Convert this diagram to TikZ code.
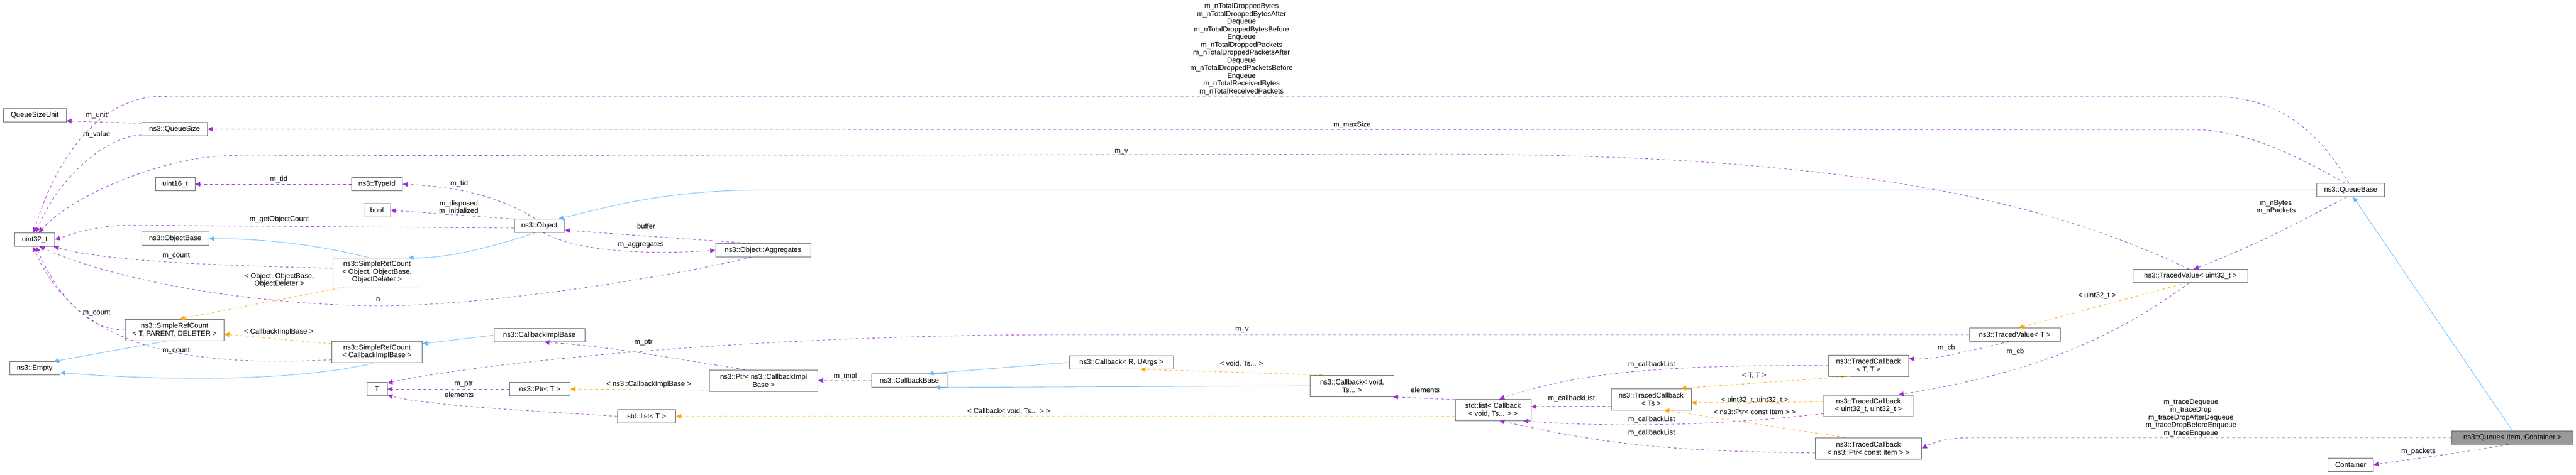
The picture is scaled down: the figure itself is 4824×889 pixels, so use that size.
\documentclass[tikz,border=0pt]{standalone}
\usepackage{fontspec}
\setmainfont{Liberation Sans}
\usetikzlibrary{arrows.meta}
\definecolor{pur}{HTML}{9A32CD}
\definecolor{org}{HTML}{FFA500}
\definecolor{blu}{HTML}{63B8FF}
\definecolor{bdr}{HTML}{666666}
\begin{document}
\begin{tikzpicture}[x=0.25mm,y=-0.25mm,
  box/.style={draw=bdr,line width=0.6pt,fill=white,inner sep=1pt,minimum height=6.25mm,align=center,font=\fontsize{9.5}{10.3}\selectfont},
  mw/.style={minimum width=#1*0.25mm},
  lbl/.style={align=center,inner sep=0pt,font=\fontsize{9.5}{10.3}\selectfont},
  pe/.style={-{Triangle[length=2.4mm,width=2.2mm,fill=pur]},draw=pur,line width=0.6pt,dash pattern=on 1.3mm off 1.3mm},
  oe/.style={-{Triangle[length=2.4mm,width=2.2mm,fill=org]},draw=org,line width=0.6pt,dash pattern=on 1.3mm off 1.3mm},
  be/.style={-{Triangle[length=2.4mm,width=2.2mm,fill=blu]},draw=blu,line width=0.6pt}]
\useasboundingbox (0,0) rectangle (4824,889);
% nodes
\node[box,mw=118] (qsu) at (65,216) {QueueSizeUnit};
\node[box,mw=123] (qs) at (327,242) {ns3::QueueSize};
\node[box,mw=75] (u32) at (65,449) {uint32\_t};
\node[box,mw=74] (u16) at (328,345) {uint16\_t};
\node[box,mw=95] (tid) at (706,345) {ns3::TypeId};
\node[box,mw=50] (bool) at (706,394) {bool};
\node[box,mw=94] (obj) at (1010,423) {ns3::Object};
\node[box,mw=126] (ob) at (328,447) {ns3::ObjectBase};
\node[box,mw=165,minimum height=13.5mm] (srco) at (706,510) {ns3::SimpleRefCount\\{}< Object, ObjectBase,\\ObjectDeleter >};
\node[box,mw=185,minimum height=10mm] (srct) at (327,618) {ns3::SimpleRefCount\\{}< T, PARENT, DELETER >};
\node[box,mw=94] (emp) at (65,690) {ns3::Empty};
\node[box,mw=169,minimum height=10mm] (srcc) at (706,659) {ns3::SimpleRefCount\\{}< CallbackImplBase >};
\node[box,mw=170] (cib) at (1010,628) {ns3::CallbackImplBase};
\node[box,mw=38] (T) at (706,729) {T};
\node[box,mw=113] (pt) at (1011,729) {ns3::Ptr< T >};
\node[box,mw=109] (lt) at (1211,780) {std::list< T >};
\node[box,mw=178] (agg) at (1429,469) {ns3::Object::Aggregates};
\node[box,mw=203,minimum height=10mm] (pcib) at (1430,713) {ns3::Ptr< ns3::CallbackImpl\\Base >};
\node[box,mw=141] (cb) at (1703,713) {ns3::CallbackBase};
\node[box,mw=195] (cbr) at (2100,679) {ns3::Callback< R, UArgs >};
\node[box,mw=157,minimum height=10mm] (cbv) at (2532,723) {ns3::Callback< void,\\Ts... >};
\node[box,mw=142,minimum height=10mm] (lcb) at (2796,768) {std::list< Callback\\{}< void, Ts... > >};
\node[box,mw=150,minimum height=10mm] (tcts) at (3092,748) {ns3::TracedCallback\\{}< Ts >};
\node[box,mw=150,minimum height=10mm] (tctt) at (3499,685) {ns3::TracedCallback\\{}< T, T >};
\node[box,mw=167,minimum height=10mm] (tcuu) at (3499,760) {ns3::TracedCallback\\{}< uint32\_t, uint32\_t >};
\node[box,mw=199,minimum height=10mm] (tcp) at (3499,840) {ns3::TracedCallback\\{}< ns3::Ptr< const Item > >};
\node[box,mw=127] (qb) at (4402,356) {ns3::QueueBase};
\node[box,mw=215] (tvu) at (4102,517) {ns3::TracedValue< uint32\_t >};
\node[box,mw=170] (tvt) at (3773,627) {ns3::TracedValue< T >};
\node[box,mw=227,fill=black!40] (q) at (4705,820) {ns3::Queue< Item, Container >};
\node[box,mw=85] (cont) at (4402,871) {Container};
% edges
\draw[pe] (qb.105) .. controls (4340,240) and (4260,181) .. (4146,181) -- (320,181) .. controls (200,170) and (110,280) .. (u32.100);
\draw[pe] (qb.130) .. controls (4300,290) and (4200,243) .. (4110,243) -- (qs.east);
\draw[pe] (tvu.105) .. controls (3800,360) and (3400,289) .. (2700,289) -- (450,292) .. controls (330,285) and (140,360) .. (u32.60);
\draw[pe] (qs.170) -- (qsu.-10);
\draw[pe] (qs.190) .. controls (200,255) and (110,330) .. (u32.80);
\draw[pe] (tid.west) -- (u16.east);
\draw[pe] (obj.120) .. controls (940,370) and (860,350) .. (tid.east);
\draw[pe] (obj.165) -- (bool.east);
\draw[pe] (obj.185) -- (240,422) .. controls (180,422) and (130,440) .. (u32.east);
\draw[be] (srco.120) .. controls (600,460) and (500,447) .. (ob.east);
\draw[be] (obj.-120) .. controls (930,460) and (840,485) .. (srco.25);
\draw[pe] (srco.175) .. controls (400,497) and (200,490) .. (u32.-20);
\draw[oe] (srco.-155) -- (srct.65);
\draw[pe] (agg.-150) .. controls (1250,520) and (900,575) .. (700,573) .. controls (450,570) and (200,520) .. (u32.-55);
\draw[pe] (srct.west) .. controls (170,620) and (110,560) .. (u32.-80);
\draw[be] (srct.-120) -- (emp.20);
\draw[be] (srcc.-100) .. controls (600,705) and (400,720) .. (emp.-10);
\draw[pe] (srcc.190) .. controls (320,690) and (140,640) .. (u32.-105);
\draw[oe] (srcc.170) -- (srct.-5);
\draw[be] (cib.west) -- (srcc.10);
\draw[pe] (agg.150) -- (obj.-10);
\draw[pe] (obj.-60) .. controls (1080,470) and (1200,478) .. (agg.west);
\draw[be] (qb.west) -- (1430,356) .. controls (1250,356) and (1150,385) .. (obj.20);
\draw[pe] (qb.-120) .. controls (4300,420) and (4200,470) .. (tvu.65);
\draw[oe] (tvu.-120) -- (tvt.60);
\draw[pe] (tvt.-130) .. controls (3700,655) and (3620,675) .. (tctt.10);
\draw[pe] (tvu.-100) .. controls (3950,640) and (3800,700) .. (tcuu.20);
\draw[pe] (tvt.west) -- (2000,627) .. controls (1400,627) and (900,680) .. (T.30);
\draw[pe] (pcib.150) .. controls (1250,670) and (1150,650) .. (cib.-55);
\draw[pe] (pt.west) -- (T.east);
\draw[pe] (lt.west) .. controls (1000,770) and (800,760) .. (T.-30);
\draw[oe] (pcib.-170) -- (pt.east);
\draw[pe] (cb.west) -- (pcib.east);
\draw[be] (cbr.west) -- (cb.20);
\draw[be] (cbv.west) -- (cb.-15);
\draw[oe] (cbv.160) -- (cbr.-20);
\draw[pe] (lcb.165) -- (cbv.-15);
\draw[oe] (lcb.-170) .. controls (2500,781) .. (2300,780) -- (lt.east);
\draw[pe] (tcts.190) -- (lcb.5);
\draw[pe] (tctt.west) .. controls (3100,683) and (2950,700) .. (lcb.60);
\draw[pe] (tcuu.-170) .. controls (3200,800) and (3000,800) .. (lcb.-20);
\draw[pe] (tcp.-175) .. controls (3100,845) and (3000,830) .. (lcb.-60);
\draw[oe] (tctt.-150) -- (tcts.20);
\draw[oe] (tcuu.175) -- (tcts.-5);
\draw[oe] (tcp.155) -- (tcts.-40);
\draw[pe] (q.west) -- (3700,820) .. controls (3650,820) and (3630,825) .. (tcp.east);
\draw[be] (q.north) -- (qb.-70);
\draw[pe] (q.-120) .. controls (4600,850) and (4500,862) .. (cont.east);
% labels
\node[lbl] (l1) at (2325,92) {m\_nTotalDroppedBytes\\m\_nTotalDroppedBytesAfter\\Dequeue\\m\_nTotalDroppedBytesBefore\\Enqueue\\m\_nTotalDroppedPackets\\m\_nTotalDroppedPacketsAfter\\Dequeue\\m\_nTotalDroppedPacketsBefore\\Enqueue\\m\_nTotalReceivedBytes\\m\_nTotalReceivedPackets};
\node[lbl] (l2) at (2532,234) {m\_maxSize};
\node[lbl] (l3) at (2100,284) {m\_v};
\node[lbl] (l4) at (181,216) {m\_unit};
\node[lbl] (l5) at (181,252) {m\_value};
\node[lbl] (l6) at (522,336) {m\_tid};
\node[lbl] (l7) at (860,344) {m\_tid};
\node[lbl] (l8) at (859,389) {m\_disposed\\m\_initialized};
\node[lbl] (l9) at (523,411) {m\_getObjectCount};
\node[lbl] (l10) at (330,479) {m\_count};
\node[lbl] (l11) at (523,525) {< Object, ObjectBase,\\ObjectDeleter >};
\node[lbl] (l12) at (708,561) {n};
\node[lbl] (l13) at (181,586) {m\_count};
\node[lbl] (l14) at (330,657) {m\_count};
\node[lbl] (l15) at (522,622) {< CallbackImplBase >};
\node[lbl] (l16) at (1210,424) {buffer};
\node[lbl] (l17) at (1200,459) {m\_aggregates};
\node[lbl] (l18) at (4262,388) {m\_nBytes\\m\_nPackets};
\node[lbl] (l19) at (3927,554) {< uint32\_t >};
\node[lbl] (l20) at (3645,652) {m\_cb};
\node[lbl] (l21) at (3774,659) {m\_cb};
\node[lbl] (l22) at (2326,618) {m\_v};
\node[lbl] (l23) at (1205,642) {m\_ptr};
\node[lbl] (l24) at (868,720) {m\_ptr};
\node[lbl] (l25) at (860,740) {elements};
\node[lbl] (l26) at (1215,720) {< ns3::CallbackImplBase >};
\node[lbl] (l27) at (1583,705) {m\_impl};
\node[lbl] (l28) at (2325,682) {< void, Ts... >};
\node[lbl] (l29) at (2669,731) {elements};
\node[lbl] (l30) at (1889,771) {< Callback< void, Ts... > >};
\node[lbl] (l31) at (2943,747) {m\_callbackList};
\node[lbl] (l32) at (3093,683) {m\_callbackList};
\node[lbl] (l33) at (3093,786) {m\_callbackList};
\node[lbl] (l34) at (3093,811) {m\_callbackList};
\node[lbl] (l35) at (3285,704) {< T, T >};
\node[lbl] (l36) at (3286,750) {< uint32\_t, uint32\_t >};
\node[lbl] (l37) at (3286,772) {< ns3::Ptr< const Item > >};
\node[lbl] (l38) at (4103,783) {m\_traceDequeue\\m\_traceDrop\\m\_traceDropAfterDequeue\\m\_traceDropBeforeEnqueue\\m\_traceEnqueue};
\node[lbl] (l39) at (4529,846) {m\_packets};
\end{tikzpicture}
\end{document}
